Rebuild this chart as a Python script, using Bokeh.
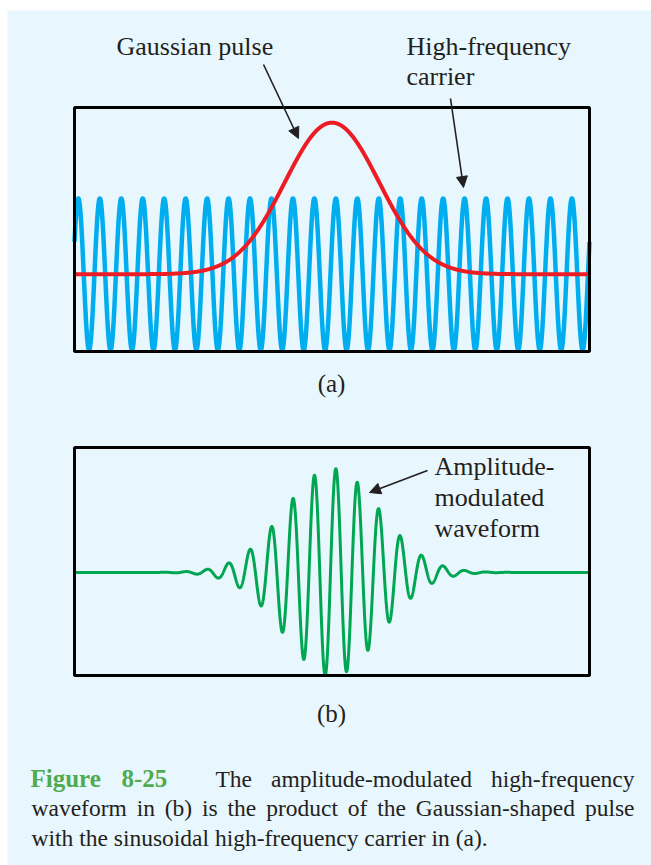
import numpy as np
from bokeh.plotting import figure
from bokeh.models import Label, Arrow, NormalHead, Range1d
from bokeh.embed import file_html
from bokeh.resources import INLINE

# ---------------- values ----------------
x_extent = [0.0, 24.0]          # both panels span 24 carrier periods
carrier_period = 1.0
carrier_crest_at = 12.18        # a crest of the carrier (in periods)
pulse_center = 12.0             # centre of the Gaussian pulse
pulse_sigma = 2.2               # Gaussian width (periods)
pulse_height = 2.0              # pulse height in units of carrier amplitude (a)
am_amplitude = 1.0              # peak of the modulated waveform (b)
yr_a = [-1.02, 2.2]             # vertical window of panel (a)
yr_b = [-0.99, 1.2]             # vertical window of panel (b)

labels_a = ["Gaussian pulse", "High-frequency", "carrier"]
labels_b = ["Amplitude-", "modulated", "waveform"]
panel_tags = ["(a)", "(b)"]
caption_tag = ["Figure", "8-25"]
caption_line1 = ["The", "amplitude-modulated", "high-frequency"]
caption_line2 = ["waveform", "in", "(b)", "is", "the", "product", "of", "the",
                 "Gaussian-shaped", "pulse"]
caption_line3 = "with the sinusoidal high-frequency carrier in (a)."

# ---------------- styles ----------------
BG = "#e8f6fd"
INK = "#231f20"
BLUE = "#00aeef"
RED = "#ed1c24"
GREEN = "#00a651"
CAP_GREEN = "#4fab4f"
SERIF = "Liberation Serif"
BASELINE_FIX = 0.365            # Bokeh SVG draws 'alphabetic' text this many em low

# ---------------- page geometry (pixels) ----------------
PW, PH = 651, 865
PANEL_L, PANEL_T = 7, 10
BOX_L, BOX_R = 74, 589
BOX_A = (107, 351)
BOX_B = (447, 675)

# ---------------- curves ----------------
x = np.linspace(x_extent[0], x_extent[1], 4000)
carrier = np.cos(2 * np.pi * (x - carrier_crest_at) / carrier_period)
pulse = pulse_height * np.exp(-0.5 * ((x - pulse_center) / pulse_sigma) ** 2)
am = am_amplitude * (pulse / pulse_height) * carrier
am_shown = np.clip(am, yr_b[0], yr_b[1])     # the box clips the waveform

# ---------------- figure: frame = light-blue panel ----------------
p = figure(width=PW, height=PH, x_range=Range1d(PANEL_L, PW),
           y_range=Range1d(PH, PANEL_T), output_backend="svg",
           toolbar_location=None, x_axis_location=None, y_axis_location=None,
           min_border_left=PANEL_L, min_border_top=PANEL_T,
           min_border_right=0, min_border_bottom=0,
           background_fill_color=BG, border_fill_color="white",
           outline_line_color=None)
p.title.visible = False
p.grid.visible = False

ppx = (BOX_R - BOX_L) / (x_extent[1] - x_extent[0])
p.extra_x_ranges = {"t": Range1d(x_extent[0] - (BOX_L - PANEL_L) / ppx,
                                 x_extent[1] + (PW - BOX_R) / ppx)}

def yrange_for(box, yr):
    ppy = (box[1] - box[0]) / (yr[1] - yr[0])
    return Range1d(yr[0] - (PH - box[1]) / ppy, yr[1] + (box[0] - PANEL_T) / ppy)

p.extra_y_ranges = {"a": yrange_for(BOX_A, yr_a), "b": yrange_for(BOX_B, yr_b)}

# panel (a)
p.line(x, carrier, line_color=BLUE, line_width=4.5, x_range_name="t", y_range_name="a")
p.line(x, pulse, line_color=RED, line_width=4, x_range_name="t", y_range_name="a")
p.quad(left=x_extent[0], right=x_extent[1], bottom=yr_a[0], top=yr_a[1],
       fill_color=None, line_color="black", line_width=3,
       x_range_name="t", y_range_name="a")

# panel (b)
p.line(x, am_shown, line_color=GREEN, line_width=3, x_range_name="t", y_range_name="b")
p.quad(left=x_extent[0], right=x_extent[1], bottom=yr_b[0], top=yr_b[1],
       fill_color=None, line_color="black", line_width=3,
       x_range_name="t", y_range_name="b")

def add_label(px, py, text, size, align="left", color=INK, bold=False):
    p.add_layout(Label(x=px, y=py - BASELINE_FIX * size, text=text,
                       text_font=SERIF, text_font_size=f"{size}px",
                       text_color=color, text_align=align,
                       text_baseline="alphabetic",
                       text_font_style="bold" if bold else "normal"))

def add_arrow(p0, p1):
    p.add_layout(Arrow(x_start=p0[0], y_start=p0[1], x_end=p1[0], y_end=p1[1],
                       line_color=INK, line_width=1.6,
                       end=NormalHead(size=11, line_color=INK, fill_color=INK,
                                      line_width=1)))

add_label(116, 55, labels_a[0], 26)
add_label(406, 55, labels_a[1], 26)
add_label(406, 85, labels_a[2], 26)
add_label(331, 392, panel_tags[0], 25, align="center")
add_arrow((263, 64), (298, 138))
add_arrow((450, 98), (463, 187))

add_label(434, 475, labels_b[0], 26)
add_label(434, 506, labels_b[1], 26)
add_label(434, 537, labels_b[2], 26)
add_label(331, 722, panel_tags[1], 25, align="center")
add_arrow((427, 470), (369, 492))

# ---------------- caption (justified) ----------------
TW = {' ': 250, '(': 333, ')': 333, '-': 333, '.': 250, 'a': 444, 'b': 500,
      'c': 444, 'd': 500, 'e': 444, 'f': 333, 'g': 500, 'h': 500, 'i': 278,
      'l': 278, 'm': 778, 'n': 500, 'o': 500, 'p': 500, 'q': 500, 'r': 333,
      's': 389, 't': 278, 'u': 500, 'v': 500, 'w': 722, 'y': 500, 'G': 722,
      'T': 611}

def wlen(word, size):
    return sum(TW.get(ch, 500) for ch in word) * size / 1000.0

CAP = 23.5

def justify(words, left, right, base, size):
    total = sum(wlen(w, size) for w in words)
    gap = (right - left - total) / (len(words) - 1)
    xpos = left
    for i, w in enumerate(words):
        if i == len(words) - 1:
            add_label(right, base, w, size, align="right")
        else:
            add_label(xpos, base, w, size)
        xpos += wlen(w, size) + gap

add_label(30, 787, caption_tag[0], 25, color=CAP_GREEN, bold=True)
add_label(121, 787, caption_tag[1], 25, color=CAP_GREEN, bold=True)
justify(caption_line1, 215, 634, 787, CAP)
justify(caption_line2, 31, 634, 816.5, CAP)
add_label(31, 846, caption_line3, CAP)

open("out.html", "w").write(file_html(p, INLINE))
